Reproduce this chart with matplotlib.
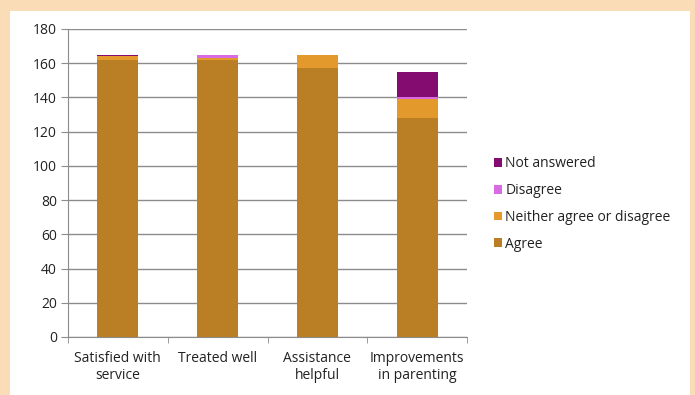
import matplotlib
matplotlib.use("Agg")
import matplotlib.pyplot as plt
from matplotlib.patches import Rectangle
import numpy as np

categories = ["Satisfied with\nservice", "Treated well", "Assistance\nhelpful", "Improvements\nin parenting"]
agree = [162, 162, 157, 128]
neither = [2, 1, 8, 11]
disagree = [0, 2, 0, 1]
not_answered = [1, 0, 0, 15]
series_names = ["Agree", "Neither agree or disagree", "Disagree", "Not answered"]
colors = ["#BA7F24", "#E4992D", "#D86BE3", "#840B70"]
yticks = [0, 20, 40, 60, 80, 100, 120, 140, 160, 180]

plt.rcParams['font.family'] = ['Open Sans', 'DejaVu Sans']

W, H = 695, 395
fig = plt.figure(figsize=(W/100, H/100), dpi=100)
fig.patch.set_facecolor("#FADCB6")
fig.patches.append(Rectangle((10/W, 0), 680/W, (H-11)/H, transform=fig.transFigure,
                             facecolor="white", edgecolor="none", zorder=-10))

ax = fig.add_axes([68/W, (H-337)/H, (467-68)/W, (337-29)/H])
ax.set_zorder(1)
ax.set_facecolor("none")

x = np.arange(len(categories))
bottom = np.zeros(len(categories))
handles = []
for vals, name, c in zip([agree, neither, disagree, not_answered], series_names, colors):
    b = ax.bar(x, vals, 0.41, bottom=bottom, color=c, label=name, zorder=3)
    handles.append(b)
    bottom += np.array(vals)

ax.set_xlim(-0.5, len(categories) - 0.5)
ax.set_ylim(0, 180)
ax.set_yticks(yticks)
ax.yaxis.grid(True, color="#8C8C8C", linewidth=1)
ax.set_axisbelow(True)
for s in ["top", "right"]:
    ax.spines[s].set_visible(False)
ax.spines["left"].set_color("#8C8C8C")
ax.spines["bottom"].set_color("#8C8C8C")
ax.tick_params(axis="y", length=5, color="#8C8C8C", labelsize=10, pad=3, labelcolor="#222222")
ax.set_xticks(x)
ax.set_xticklabels(categories, fontsize=10, color="#222222", linespacing=1.15)
ax.tick_params(axis="x", length=0, pad=10)
ax.set_xticks(np.arange(-0.5, len(categories)), minor=True)
ax.tick_params(axis="x", which="minor", length=4, color="#8C8C8C")

leg = ax.legend(handles[::-1], series_names[::-1], loc="center left",
                bbox_to_anchor=((488 - 68) / (467 - 68), (337 - 204) / (337 - 29)),
                frameon=False, fontsize=10, handlelength=0.6, handleheight=0.6,
                handletextpad=0.25, labelspacing=0.85, borderaxespad=0)
for t in leg.get_texts():
    t.set_color("#222222")

fig.savefig("out.png", dpi=100, facecolor=fig.get_facecolor())
